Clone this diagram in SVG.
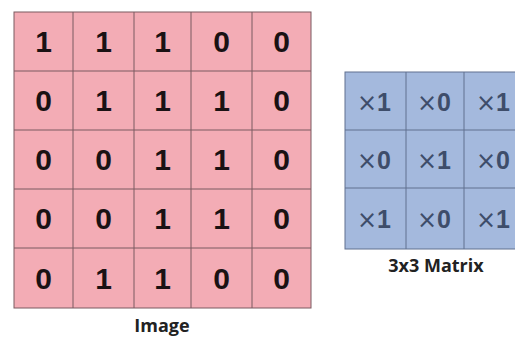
<svg xmlns="http://www.w3.org/2000/svg" width="515" height="338" viewBox="0 0 515 338">
<style>
.img{fill:#f3acb5;stroke:#7b5a60;stroke-width:1}
.mat{fill:#a4b9dd;stroke:#61708f;stroke-width:1}
.n{font-family:"Liberation Sans",Arial,sans-serif;font-weight:bold;font-size:30px;fill:#1a1214;text-anchor:middle}
.m{font-family:"Liberation Sans",Arial,sans-serif;font-weight:bold;font-size:25px;fill:#3e4d6a;text-anchor:middle}
.x{font-weight:normal;font-family:"DejaVu Sans",sans-serif;font-size:24px}
.lbl{font-family:"Open Sans",sans-serif;font-weight:bold;font-size:18px;fill:#222;text-anchor:middle}
</style>
<rect width="515" height="338" fill="#ffffff"/>
<g id="image">
<rect class="img" x="14" y="12" width="297" height="296"/>
<path class="img" fill="none" d="M73 12V308M134 12V308M191 12V308M252 12V308M14 71H311M14 130H311M14 189H311M14 248H311"/>
<g class="n">
<text x="43.5" y="52">1</text><text x="103.5" y="52">1</text><text x="162.5" y="52">1</text><text x="221.5" y="52">0</text><text x="281.5" y="52">0</text>
<text x="43.5" y="111">0</text><text x="103.5" y="111">1</text><text x="162.5" y="111">1</text><text x="221.5" y="111">1</text><text x="281.5" y="111">0</text>
<text x="43.5" y="170">0</text><text x="103.5" y="170">0</text><text x="162.5" y="170">1</text><text x="221.5" y="170">1</text><text x="281.5" y="170">0</text>
<text x="43.5" y="229">0</text><text x="103.5" y="229">0</text><text x="162.5" y="229">1</text><text x="221.5" y="229">1</text><text x="281.5" y="229">0</text>
<text x="43.5" y="289">0</text><text x="103.5" y="289">1</text><text x="162.5" y="289">1</text><text x="221.5" y="289">0</text><text x="281.5" y="289">0</text>
</g>
<text class="lbl" x="162" y="332">Image</text>
</g>
<g id="matrix">
<rect class="mat" x="345" y="72" width="177" height="177"/>
<path class="mat" fill="none" d="M406 72V249M464 72V249M345 130H522M345 188H522"/>
<g class="m">
<text x="374" y="111"><tspan class="x">×</tspan>1</text><text x="434" y="111"><tspan class="x">×</tspan>0</text><text x="493" y="111"><tspan class="x">×</tspan>1</text>
<text x="374" y="169"><tspan class="x">×</tspan>0</text><text x="434" y="169"><tspan class="x">×</tspan>1</text><text x="493" y="169"><tspan class="x">×</tspan>0</text>
<text x="374" y="228"><tspan class="x">×</tspan>1</text><text x="434" y="228"><tspan class="x">×</tspan>0</text><text x="493" y="228"><tspan class="x">×</tspan>1</text>
</g>
<text class="lbl" x="436" y="272" font-size="17">3x3 Matrix</text>
</g>
<g id="connectors"></g>
</svg>
